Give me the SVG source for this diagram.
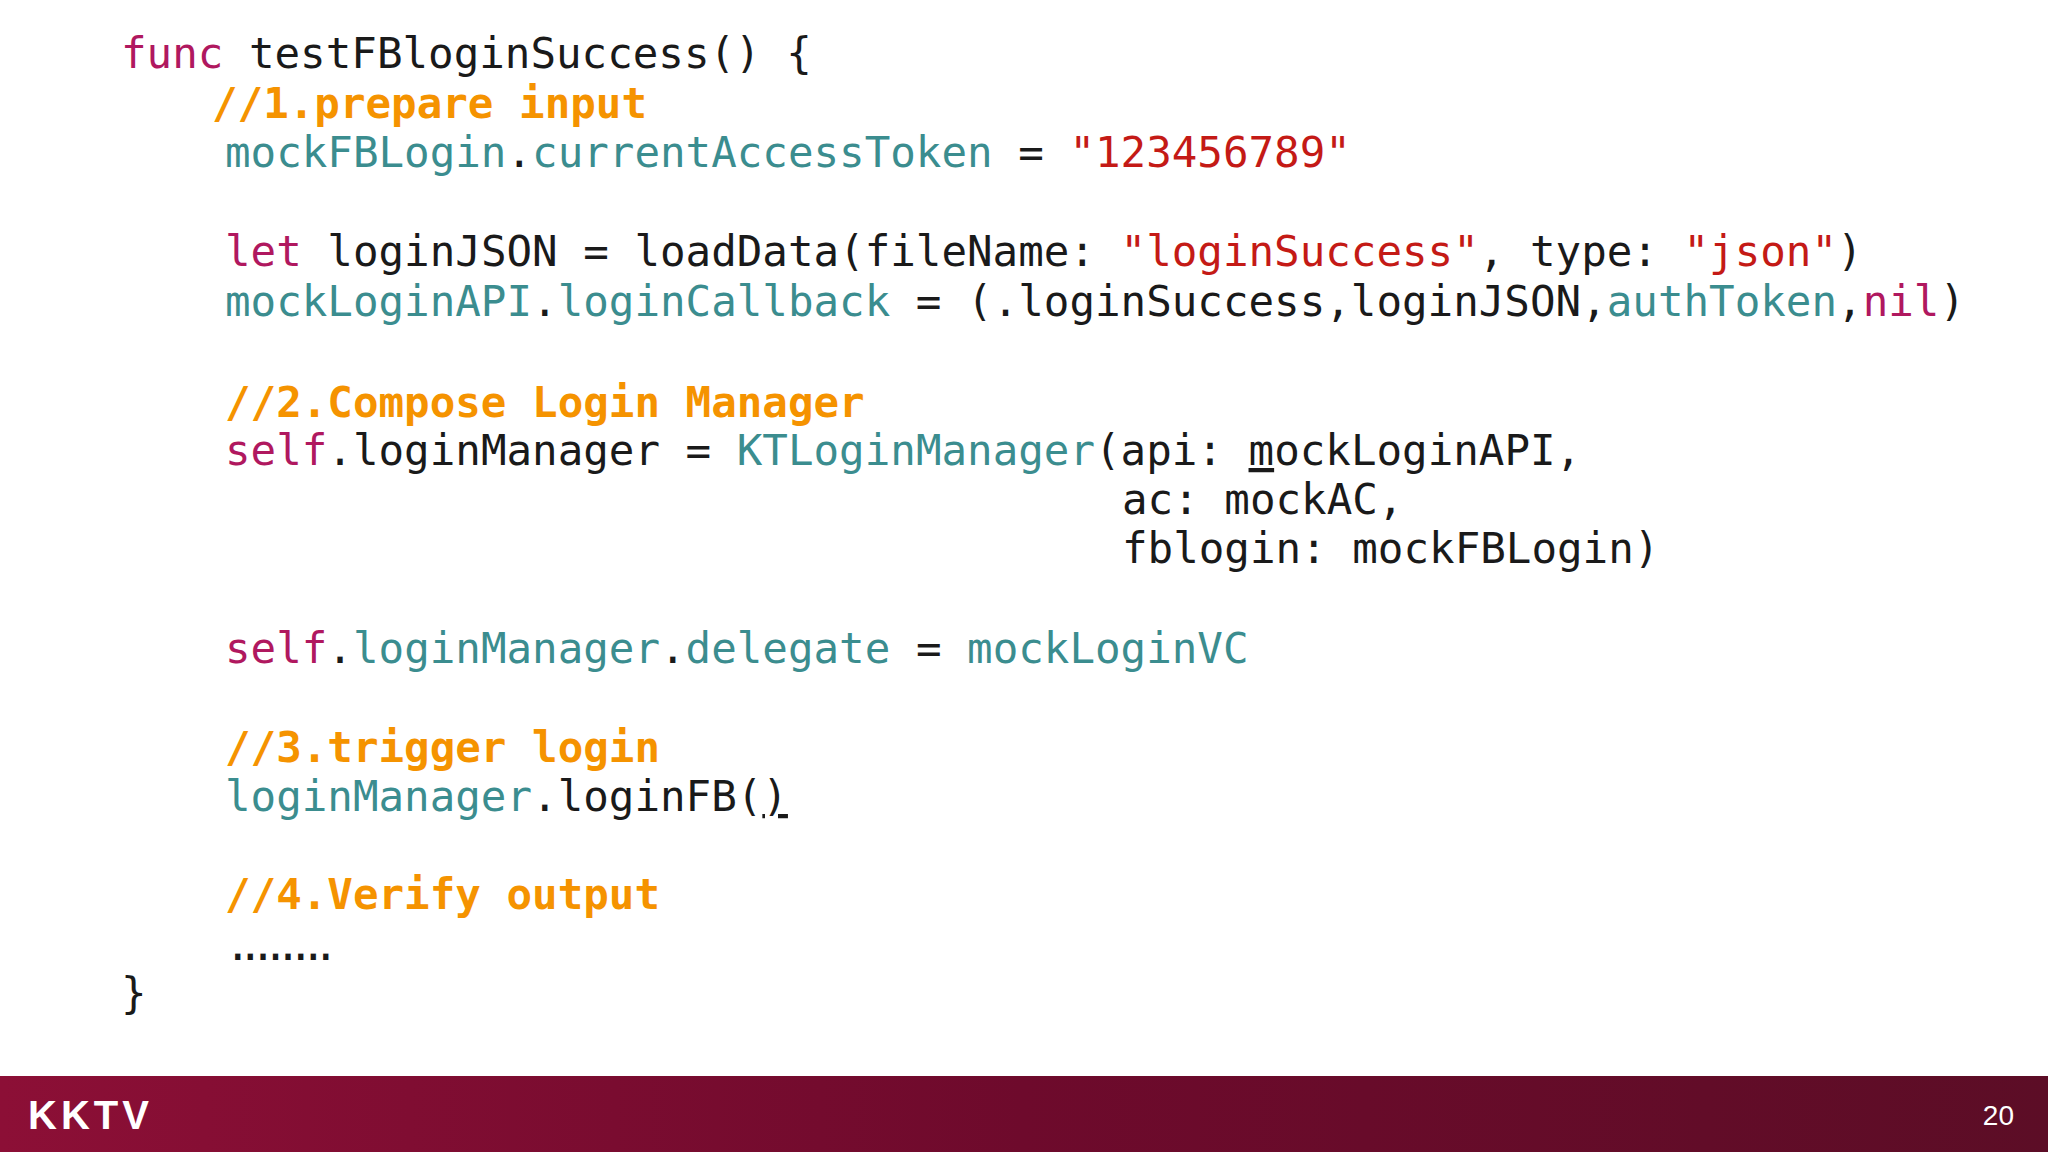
<svg xmlns="http://www.w3.org/2000/svg" width="2048" height="1152" viewBox="0 0 2048 1152">
<defs>
<linearGradient id="bar" x1="0" y1="0" x2="1" y2="0">
<stop offset="0" stop-color="#8c0f36"/><stop offset="0.5" stop-color="#6e0a2c"/><stop offset="1" stop-color="#5c0d26"/>
</linearGradient>
</defs>
<style>
text{font-family:"DejaVu Sans Mono",monospace;font-size:42.5px;fill:#1a1a1a;white-space:pre}
.k{fill:#b0185f}.p{fill:#3b8d8f}.s{fill:#c41a16}
.c{fill:#f59300;font-weight:bold}
.f{font-family:"Liberation Sans",Arial,sans-serif}
</style>
<rect width="2048" height="1152" fill="#ffffff"/>
<g id="code" xml:space="preserve">
<text x="121" y="68"><tspan class="k">func</tspan> testFBloginSuccess() {</text>
<text x="212" y="118" class="c">//1.prepare input</text>
<text x="225" y="167"><tspan class="p">mockFBLogin</tspan>.<tspan class="p">currentAccessToken</tspan> = <tspan class="s">"123456789"</tspan></text>
<text x="225" y="266"><tspan class="k">let</tspan> loginJSON = loadData(fileName: <tspan class="s">"loginSuccess"</tspan>, type: <tspan class="s">"json"</tspan>)</text>
<text x="225" y="316"><tspan class="p">mockLoginAPI</tspan>.<tspan class="p">loginCallback</tspan> = (.loginSuccess,loginJSON,<tspan class="p">authToken</tspan>,<tspan class="k">nil</tspan>)</text>
<text x="225" y="417" class="c">//2.Compose Login Manager</text>
<text x="225" y="465"><tspan class="k">self</tspan>.loginManager = <tspan class="p">KTLoginManager</tspan>(api: <tspan text-decoration="underline">m</tspan>ockLoginAPI,</text>
<text x="1122" y="514">ac: mockAC,</text>
<text x="1122" y="563">fblogin: mockFBLogin)</text>
<text x="225" y="663"><tspan class="k">self</tspan>.<tspan class="p">loginManager</tspan>.<tspan class="p">delegate</tspan> = <tspan class="p">mockLoginVC</tspan></text>
<text x="225" y="762" class="c">//3.trigger login</text>
<text x="225" y="811"><tspan class="p">loginManager</tspan>.loginFB(<tspan text-decoration="underline">)</tspan></text>
<text x="225" y="909" class="c">//4.Verify output</text>
<text x="225" y="960" style="letter-spacing:-13px">........</text>
<text x="121" y="1008">}</text>
</g>
<g id="footer">
<rect x="0" y="1076" width="2048" height="76" fill="url(#bar)"/>
<text x="28" y="1129" class="f" style="font-size:40px;font-weight:bold;fill:#fff;letter-spacing:4px">KKTV</text>
<text x="2014" y="1125" class="f" text-anchor="end" style="font-size:28px;fill:#fff">20</text>
</g>
</svg>
